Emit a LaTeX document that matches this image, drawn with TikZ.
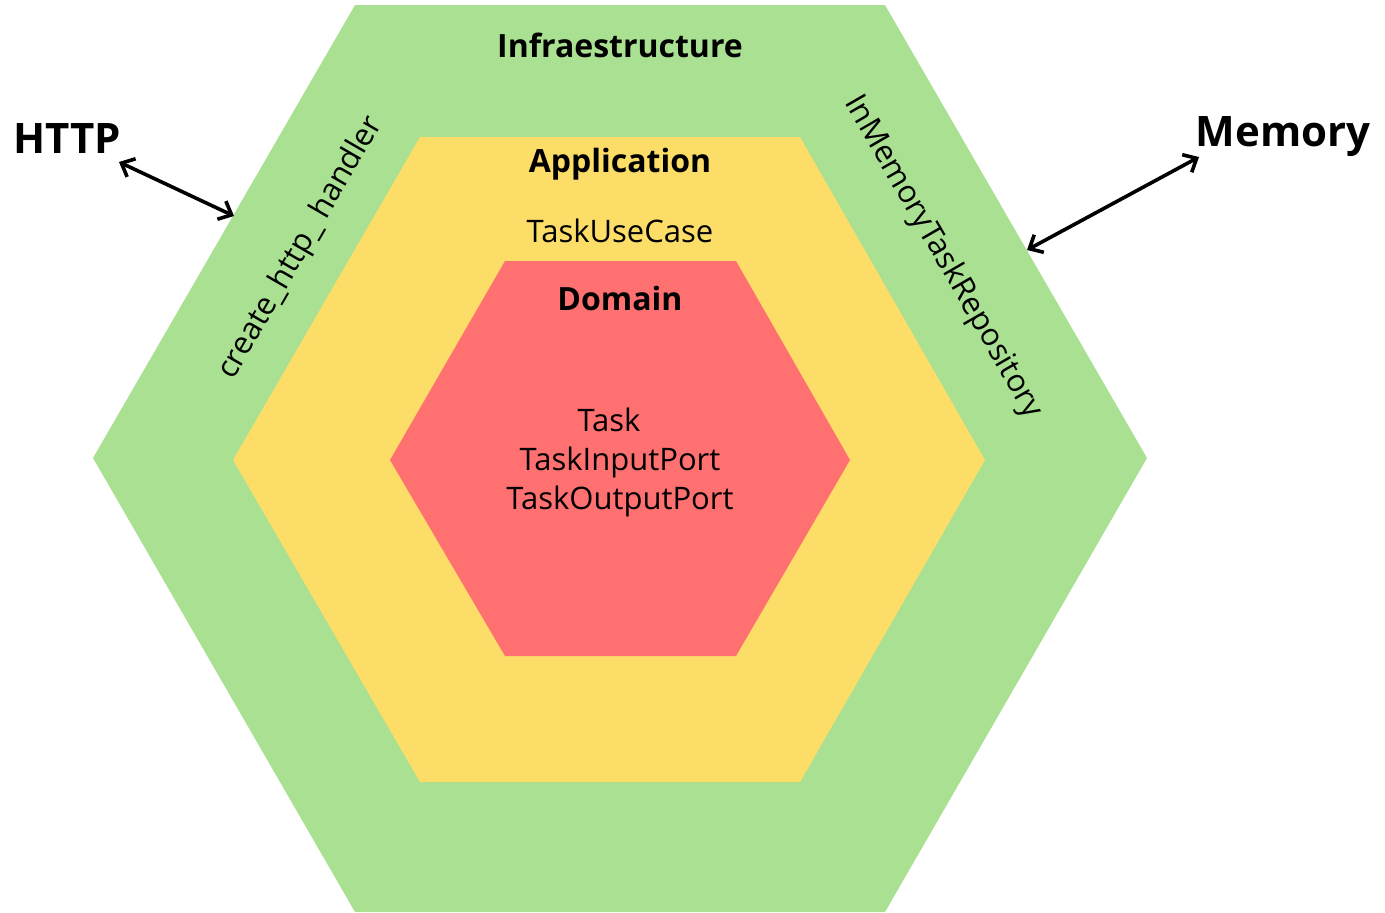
\documentclass[tikz,border=0pt]{standalone}
\usepackage{fontspec}
\setmainfont{Open Sans}
\usetikzlibrary{arrows.meta}
\definecolor{infra}{RGB}{169,224,146}
\definecolor{appl}{RGB}{252,221,104}
\definecolor{dom}{RGB}{255,112,112}
\tikzset{
  title/.style={font=\fontsize{16}{19}\selectfont\bfseries, inner sep=0pt},
  item/.style={font=\fontsize{15.5}{18}\selectfont, inner sep=0pt},
  ext/.style={font=\fontsize{21}{25}\selectfont\bfseries, inner sep=0pt},
  link/.style={line width=1.8pt, {Straight Barb[length=5.5pt,width=10pt]}-{Straight Barb[length=5.5pt,width=10pt]}}
}
\begin{document}
\begin{tikzpicture}[x=0.5pt,y=-0.5pt]
\useasboundingbox (0,0) rectangle (1385,912);
\fill[infra] (355,5) -- (885,5) -- (1147,458) -- (885,912) -- (355,912) -- (93,458) -- cycle;
\fill[appl] (420,137) -- (800,137) -- (985,460) -- (800,782) -- (420,782) -- (233,460) -- cycle;
\fill[dom] (505,261) -- (736,261) -- (850,460) -- (736,656) -- (505,656) -- (390,460) -- cycle;
\node[title] (infra) at (620,45) {Infraestructure};
\node[title] (app) at (620,164) {Application};
\node[item] (usecase) at (620,231) {TaskUseCase};
\node[title] (domain) at (620,298) {Domain};
\node[item] (task) at (609,420) {Task};
\node[item] (inport) at (620,462) {TaskInputPort};
\node[item] (outport) at (620,501) {TaskOutputPort};
\node[item, rotate=60] (handler) at (301,248) {create\_http\_ handler};
\node[item, rotate=-60] (repo) at (943,257) {InMemoryTaskRepository};
\node[ext] (http) at (67,138) {HTTP};
\node[ext] (memory) at (1283,137) {Memory};
\coordinate (hin) at (234,216);
\coordinate (min) at (1027,250);
\coordinate (hout) at (119,162);
\coordinate (mout) at (1199,157);
\draw[link] (hout) -- (hin);
\draw[link] (min) -- (mout);
\end{tikzpicture}
\end{document}
